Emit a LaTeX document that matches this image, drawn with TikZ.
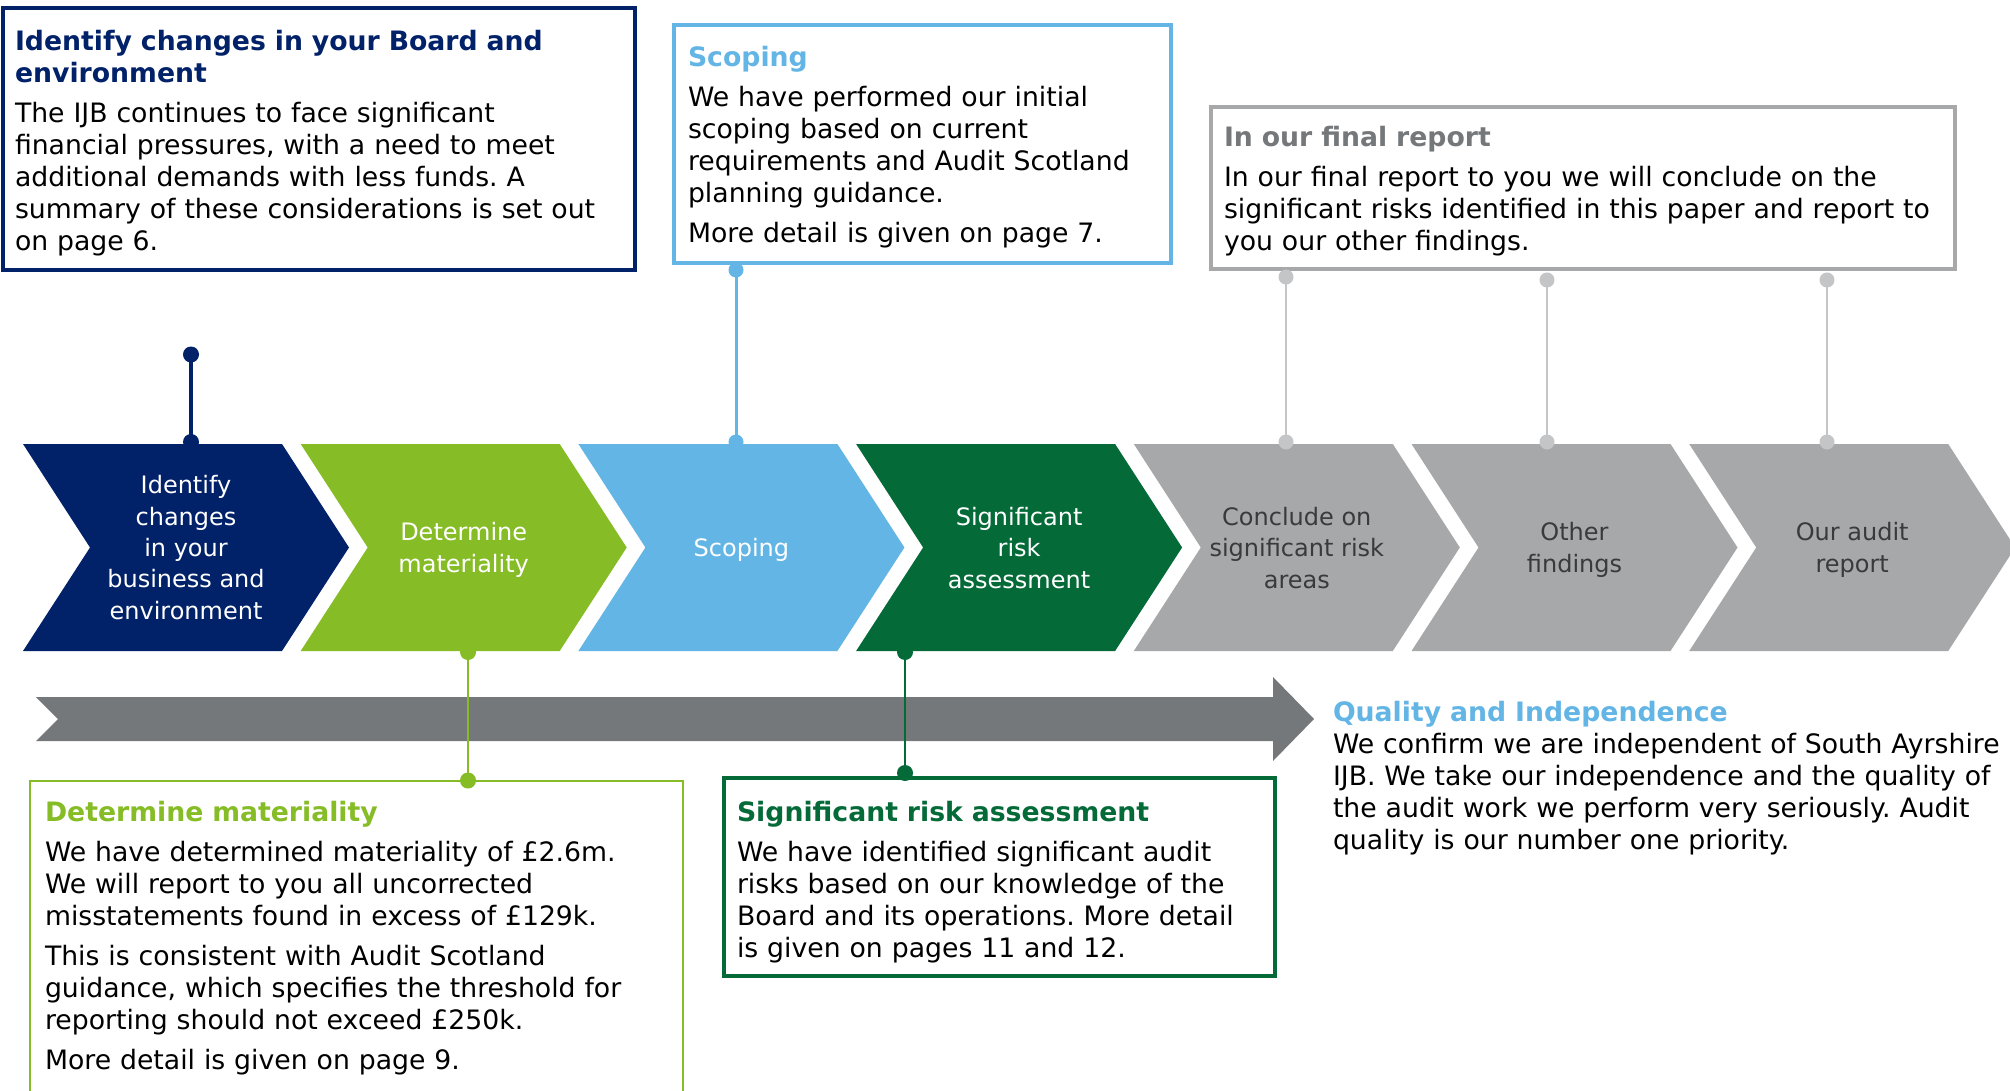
\documentclass[tikz,border=0pt]{standalone}
\usepackage{fontspec}
\setmainfont{DejaVu Sans}
\frenchspacing
\definecolor{navy}{HTML}{012169}
\definecolor{lgreen}{HTML}{86BC25}
\definecolor{lblue}{HTML}{62B5E5}
\definecolor{dgreen}{HTML}{046A38}
\definecolor{chevgray}{HTML}{A7A8AA}
\definecolor{arrowgray}{HTML}{75787B}
\definecolor{congray}{HTML}{C4C5C7}
\definecolor{chevtext}{HTML}{3A3A3A}
\newcommand\bodyfont{\fontsize{26.7}{32}\selectfont\frenchspacing}
\newcommand\chevfont{\fontsize{24}{31.4}\selectfont}
\newcommand\ttl[2]{\textcolor{#1}{\bfseries #2}}
\begin{document}
\begin{tikzpicture}[x=1pt,y=-1pt,
  txt/.style={anchor=base west, inner sep=0pt, outer sep=0pt, align=left, text width=780pt, font=\bodyfont, text=black},
  chevtxt/.style={anchor=center, inner sep=0pt, align=center, font=\chevfont},
  boxline/.style={draw=#1, fill=none},
  conn/.style={draw=#1, line cap=round},
  dot/.style={fill=#1}
]
\clip (0,0) rectangle (2010,1091);
\fill[white] (0,0) rectangle (2010,1091);

% chevrons
\foreach \i/\col in {0/navy,1/lgreen,2/lblue,3/dgreen,4/chevgray,5/chevgray,6/chevgray}{
  \pgfmathsetmacro{\L}{23+277.7*\i}
  \fill[\col] (\L,444) -- ({\L+259},444) -- ({\L+326},547.5) -- ({\L+259},651) -- (\L,651) -- ({\L+67},547.5) -- cycle;
}
\node[chevtxt, text=white] (c1) at (186,547.5) {Identify\\changes\\in your\\business and\\environment};
\node[chevtxt, text=white] (c2) at (463.7,550) {Determine\\materiality};
\node[chevtxt, text=white] (c3) at (741.4,550) {Scoping};
\node[chevtxt, text=white] (c4) at (1019.1,548) {Significant\\risk\\assessment};
\node[chevtxt, text=chevtext] (c5) at (1296.8,548) {Conclude on\\significant risk\\areas};
\node[chevtxt, text=chevtext] (c6) at (1574.5,550) {Other\\findings};
\node[chevtxt, text=chevtext] (c7) at (1852.2,550) {Our audit\\report};

% big arrow
\fill[arrowgray] (36,697) -- (1273,697) -- (1273,677) -- (1314,719) -- (1273,761) -- (1273,741) -- (36,741) -- (58,719) -- cycle;

% boxes
\draw[boxline=navy, line width=4pt] (3,8) rectangle (635,270);
\draw[boxline=lblue, line width=4pt] (674,25) rectangle (1171,263);
\draw[boxline=chevgray, line width=3.5pt] (1211,107) rectangle (1955,269);
\draw[boxline=lgreen, line width=2pt] (30,780.5) rectangle (683,1110);
\draw[boxline=dgreen, line width=3.5pt] (724,778) rectangle (1275,976);

% texts
\node[txt] (t1) at (15,50.5) {\ttl{navy}{Identify changes in your Board and}\\
\ttl{navy}{environment}\\[8pt]
The IJB continues to face significant\\
financial pressures, with a need to meet\\
additional demands with less funds. A\\
summary of these considerations is set out\\
on page 6.};

\node[txt] (t2) at (688,66.5) {\ttl{lblue}{Scoping}\\[8pt]
We have performed our initial\\
scoping based on current\\
requirements and Audit Scotland\\
planning guidance.\\[8pt]
More detail is given on page 7.};

\node[txt] (t3) at (1224,146.5) {\ttl{arrowgray}{In our final report}\\[8pt]
In our final report to you we will conclude on the\\
significant risks identified in this paper and report to\\
you our other findings.};

\node[txt] (t4) at (45,821.5) {\ttl{lgreen}{Determine materiality}\\[8pt]
We have determined materiality of £2.6m.\\
We will report to you all uncorrected\\
misstatements found in excess of £129k.\\[8pt]
This is consistent with Audit Scotland\\
guidance, which specifies the threshold for\\
reporting should not exceed £250k.\\[8pt]
More detail is given on page 9.};

\node[txt] (t5) at (737,821.5) {\ttl{dgreen}{Significant risk assessment}\\[8pt]
We have identified significant audit\\
risks based on our knowledge of the\\
Board and its operations. More detail\\
is given on pages 11 and 12.};

\node[txt] (t6) at (1333,721.5) {\ttl{lblue}{Quality and Independence}\\
We confirm we are independent of South Ayrshire\\
IJB. We take our independence and the quality of\\
the audit work we perform very seriously. Audit\\
quality is our number one priority.};

% connector end points
\coordinate (n1a) at (191,354.5);
\coordinate (n1b) at (191,442);
\coordinate (n2a) at (736,270);
\coordinate (n2b) at (736,442);
\coordinate (g1a) at (1286,277);
\coordinate (g1b) at (1286,442);
\coordinate (g2a) at (1547,280);
\coordinate (g2b) at (1547,442);
\coordinate (g3a) at (1827,280);
\coordinate (g3b) at (1827,442);
\coordinate (m1a) at (468,652);
\coordinate (m1b) at (468,780.5);
\coordinate (s1a) at (905,652);
\coordinate (s1b) at (905,773);

% connectors
\draw[conn=navy, line width=3.3pt] (n1a) -- (n1b);
\fill[navy] (n1a) circle (8) (n1b) circle (8);
\draw[conn=lblue, line width=3pt] (n2a) -- (n2b);
\fill[lblue] (n2a) circle (7.5) (n2b) circle (7.5);
\foreach \a/\b in {g1a/g1b, g2a/g2b, g3a/g3b}{
  \draw[conn=congray, line width=2.7pt] (\a) -- (\b);
  \fill[congray] (\a) circle (7.5) (\b) circle (7.5);
}
\draw[conn=lgreen, line width=2.3pt] (m1a) -- (m1b);
\fill[lgreen] (m1a) circle (8) (m1b) circle (8);
\draw[conn=dgreen, line width=2pt] (s1a) -- (s1b);
\fill[dgreen] (s1a) circle (8) (s1b) circle (8);
\end{tikzpicture}
\end{document}
